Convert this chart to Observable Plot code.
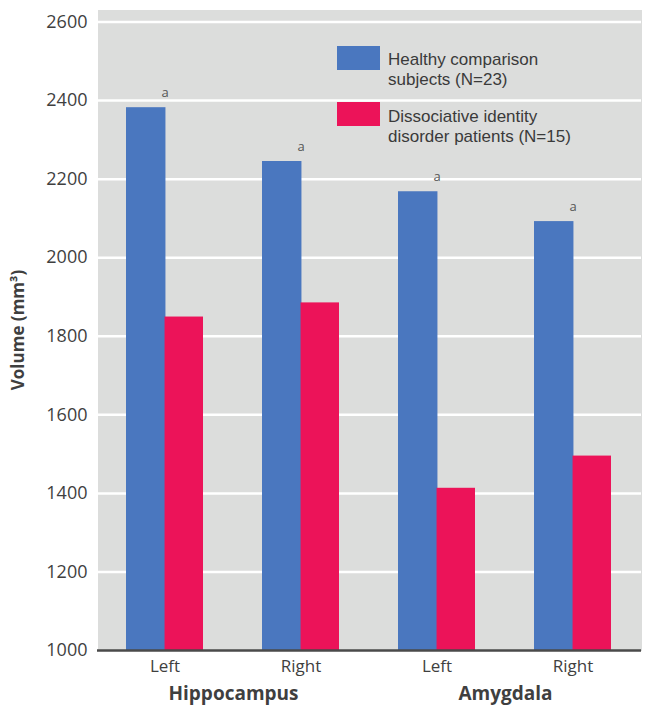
<!DOCTYPE html>
<html>
<head>
<meta charset="utf-8">
<script src="https://cdn.jsdelivr.net/npm/d3@7"></script>
<script src="https://cdn.jsdelivr.net/npm/@observablehq/plot@0.6"></script>
<style>
  html, body { margin: 0; padding: 0; background: #fff; }
  #wrap { position: relative; width: 650px; height: 716px; font-family: 'Open Sans', sans-serif; color: #3f3f3f; }
  .sw { position: absolute; width: 43px; height: 24px; }
  .lt { position: absolute; font-family: 'Liberation Sans', Arial, sans-serif; font-size: 17px; line-height: 20px; height: 20px; white-space: nowrap; color: #3a3a3a; }
</style>
</head>
<body>
<div id="wrap"></div>
<script>
// ---- data ----
const sites = ["Hippocampus", "Hippocampus", "Amygdala", "Amygdala"];
const sides = ["Left", "Right", "Left", "Right"];
const healthy = [2382, 2245, 2168, 2092];
const dissociative = [1849, 1885, 1413, 1495];
const siteOrder = ["Hippocampus", "Amygdala"];
const sideOrder = ["Left", "Right"];
const yTicks = [1000, 1200, 1400, 1600, 1800, 2000, 2200, 2400, 2600];
const seriesNames = [
  ["Healthy comparison", "subjects (N=23)"],
  ["Dissociative identity", "disorder patients (N=15)"]
];
const sigMark = "a";
const yLabel = "Volume (mm\u00B3)";

// ---- style ----
const colors = ["#4a77bf", "#ec1359"];
const bg = "#dcdddc";
const W = 650, H = 716, ML = 97, MR = 9, MT = 9, MB = 66;

const data = sites.map((s, i) => ({site: s, side: sides[i], healthy: healthy[i], did: dissociative[i]}));

const xOpts = {domain: sideOrder, paddingInner: 0.433, paddingOuter: 0.2165};
const facetWidth = (W - ML - MR) / siteOrder.length;
const bw = Plot.scale({x: {type: "band", ...xOpts, range: [0, facetWidth]}}).bandwidth;
const half = bw / 2;

const chart = Plot.plot({
  width: W, height: H,
  marginLeft: ML, marginRight: MR, marginTop: MT, marginBottom: MB,
  style: {fontFamily: "'Open Sans', sans-serif", background: "transparent", color: "#3f3f3f"},
  fx: {domain: siteOrder, padding: 0, label: null},
  x: {...xOpts, label: null},
  y: {domain: [1000, 2632], label: null},
  marks: [
    Plot.frame({fill: bg, stroke: null, shapeRendering: "crispEdges"}),
    Plot.ruleY(yTicks.slice(1), {stroke: "white", strokeWidth: 2.5}),
    Plot.barY(data, {fx: "site", x: "side", y1: 1000, y2: "healthy", fill: colors[0], insetRight: half - 1}),
    Plot.barY(data, {fx: "site", x: "side", y1: 1000, y2: "did", fill: colors[1], insetLeft: half}),
    Plot.ruleY([1000], {stroke: "#4a4a4a", strokeWidth: 2.5}),
    Plot.text(data, {fx: "site", x: "side", y: "healthy", text: () => sigMark, dy: -15, fontSize: 13, fill: "#555"}),
    Plot.axisY({ticks: yTicks, tickFormat: d => String(d), tickSize: 0, tickPadding: 10, fontSize: 18, label: null}),
    Plot.axisX({tickSize: 0, tickPadding: 9, fontSize: 17, label: null}),
    Plot.axisFx({anchor: "bottom", tickSize: 0, tickPadding: 36, fontSize: 19, fontWeight: "bold", label: null}),
    Plot.text([yLabel], {fx: () => siteOrder[0], frameAnchor: "left", textAnchor: "middle", rotate: -90, dx: -79, fontSize: 17, fontWeight: "bold"})
  ]
});

const wrap = document.getElementById("wrap");
wrap.appendChild(chart);

// legend inside plot area
const legendPos = [{sx: 337, sy: 46, tx: 388, ty: 50}, {sx: 337, sy: 102, tx: 388, ty: 107}];
seriesNames.forEach((lines, i) => {
  const sw = document.createElement("div");
  sw.className = "sw";
  sw.style.left = legendPos[i].sx + "px";
  sw.style.top = legendPos[i].sy + "px";
  sw.style.background = colors[i];
  wrap.appendChild(sw);
  lines.forEach((line, j) => {
    const t = document.createElement("div");
    t.className = "lt";
    t.style.left = legendPos[i].tx + "px";
    t.style.top = (legendPos[i].ty + j * 20) + "px";
    t.textContent = line;
    wrap.appendChild(t);
  });
});
</script>
</body>
</html>
